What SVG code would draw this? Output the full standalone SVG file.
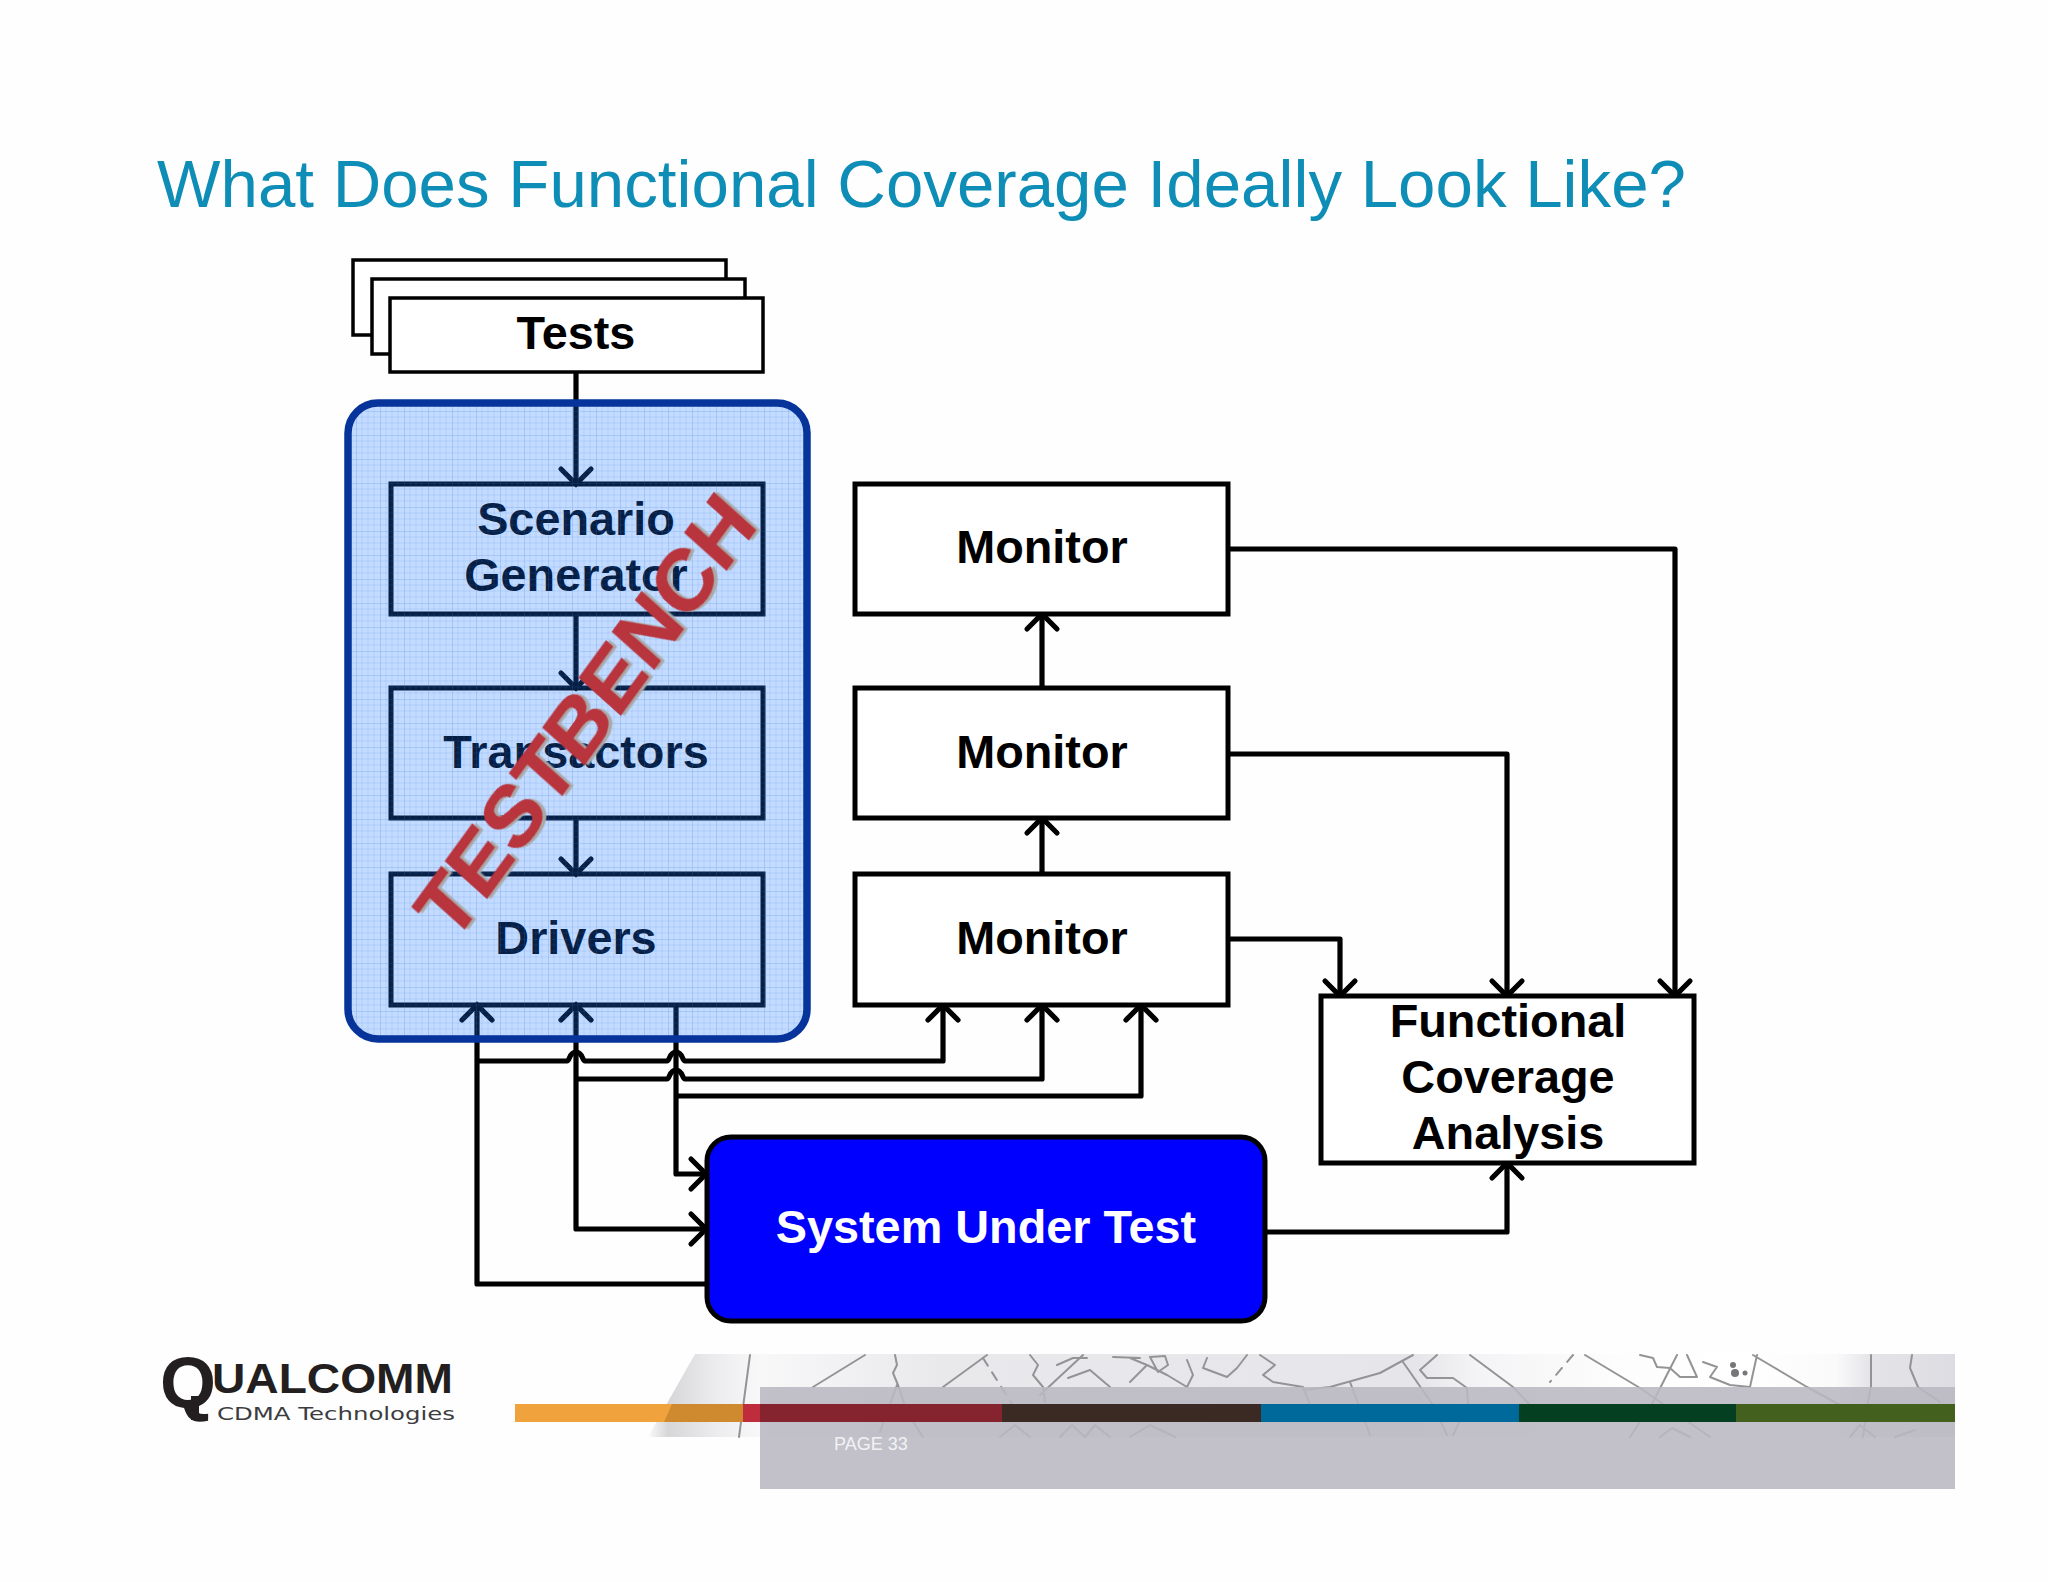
<svg xmlns="http://www.w3.org/2000/svg" width="2048" height="1582" viewBox="0 0 2048 1582">
<style>
text{font-family:"Liberation Sans",Arial,sans-serif}
.lbl{font-size:46.8px;font-weight:700;text-anchor:middle;fill:#000}
.box{fill:#fff;stroke:#000;stroke-width:3.5}
.inbox{fill:none;stroke:#000;stroke-width:5}
.mon{fill:#fff;stroke:#000;stroke-width:5}
.w{fill:none;stroke:#000;stroke-width:5.2;stroke-linejoin:round}
.a{marker-end:url(#arr)}
.ml{fill:none;stroke:#949497;stroke-width:2;stroke-linejoin:round;stroke-linecap:round;filter:url(#soft)}
</style>
<defs>
<marker id="arr" markerUnits="userSpaceOnUse" viewBox="-20 -20 24 40" refX="0" refY="0" markerWidth="24" markerHeight="40" orient="auto" overflow="visible">
<path d="M-15,-15 L0,0 L-15,15" fill="none" stroke="#000" stroke-width="5.2" stroke-linecap="round"/>
</marker>
<pattern id="grid" patternUnits="userSpaceOnUse" x="356" y="411" width="24" height="24">
<rect width="24" height="24" fill="#1273ff" fill-opacity=".26"/>
<path d="M6 0V24M12 0V24M18 0V24M0 6H24M0 12H24M0 18H24" stroke="#2f6fe0" stroke-opacity=".14" stroke-width="1" fill="none"/>
<path d="M0 0V24M0 0H24" stroke="#2f6fe0" stroke-opacity=".34" stroke-width="1.2" fill="none"/>
</pattern>
<linearGradient id="mapL" x1="0" x2="1" y1="0" y2="0">
<stop offset="0" stop-color="#fbfbfb"/><stop offset=".18" stop-color="#d6d6d8"/><stop offset=".6" stop-color="#ececee"/><stop offset="1" stop-color="#f8f8f9"/>
</linearGradient>
<linearGradient id="mapM" x1="0" x2="1" y1="0" y2="0">
<stop offset="0" stop-color="#f8f8f9"/><stop offset=".15" stop-color="#e9e9ec"/><stop offset=".55" stop-color="#e6e6ea"/><stop offset=".6" stop-color="#f4f4f6"/><stop offset=".72" stop-color="#fdfdfd"/><stop offset=".82" stop-color="#ffffff"/><stop offset=".9" stop-color="#fafafa"/><stop offset=".93" stop-color="#e4e4e8"/><stop offset="1" stop-color="#dcdce2"/>
</linearGradient>
<filter id="sh" x="-10%" y="-10%" width="120%" height="120%">
<feDropShadow dx="2.5" dy="3" stdDeviation="0.4" flood-color="#a9a9a9"/>
</filter>
<filter id="soft"><feGaussianBlur stdDeviation=".6"/></filter>
</defs>
<rect width="2048" height="1582" fill="#fefefe"/>
<text id="title" x="157" y="207" font-size="66" textLength="1529" lengthAdjust="spacingAndGlyphs" fill="#0e8db6">What Does Functional Coverage Ideally Look Like?</text>

<g id="tests">
<rect class="box" x="353" y="260" width="373" height="75"/>
<rect class="box" x="372" y="279" width="373" height="75"/>
<rect class="box" x="390" y="298" width="373" height="74"/>
<text class="lbl" x="576" y="349">Tests</text>
</g>

<rect id="testbench-base" x="348" y="403" width="459" height="636" rx="30" fill="#fff"/>

<g id="connectors">
<path class="w a" d="M576 372V484"/>
<path class="w a" d="M576 614V688"/>
<path class="w a" d="M576 818V874"/>
<path class="w a" d="M1042 688V614"/>
<path class="w a" d="M1042 874V818"/>
<path class="w a" d="M706 1284H477V1005"/>
<path class="w a" d="M576 1040V1005"/>
<path class="w a" d="M576 1040V1229H706"/>
<path class="w a" d="M676 1005V1174H706"/>
<path class="w a" d="M477 1061H567C570 1061 569 1052 576 1052C583 1052 582 1061 585 1061H667C670 1061 669 1052 676 1052C683 1052 682 1061 685 1061H943V1005"/>
<path class="w a" d="M576 1079H667C670 1079 669 1070 676 1070C683 1070 682 1079 685 1079H1042V1005"/>
<path class="w a" d="M676 1096H1141V1005"/>
<path class="w a" d="M1228 549H1675V996"/>
<path class="w a" d="M1228 754H1507V996"/>
<path class="w a" d="M1228 939H1340V996"/>
<path class="w a" d="M1265 1232H1507V1163"/>
</g>

<g id="scenario-generator">
<rect class="inbox" x="391" y="484" width="372" height="130"/>
<text class="lbl" x="576" y="535">Scenario</text>
<text class="lbl" x="576" y="591">Generator</text>
</g>
<g id="transactors">
<rect class="inbox" x="391" y="688" width="372" height="130"/>
<text class="lbl" x="576" y="768">Transactors</text>
</g>
<g id="drivers">
<rect class="inbox" x="391" y="874" width="372" height="131"/>
<text class="lbl" x="576" y="954">Drivers</text>
</g>

<g id="testbench">
<rect x="348" y="403" width="459" height="636" rx="30" fill="url(#grid)"/>
<rect x="348" y="403" width="459" height="636" rx="30" fill="none" stroke="#06349a" stroke-width="7.5"/>
<text transform="matrix(.59 -.808 .721 .647 453 945)" font-size="85" font-weight="700" fill="#b8343e" stroke="#b8343e" stroke-width=".8" filter="url(#sh)">TESTBENCH</text>
</g>

<g id="monitor-1"><rect class="mon" x="855" y="484" width="373" height="130"/><text class="lbl" x="1042" y="563">Monitor</text></g>
<g id="monitor-2"><rect class="mon" x="855" y="688" width="373" height="130"/><text class="lbl" x="1042" y="768">Monitor</text></g>
<g id="monitor-3"><rect class="mon" x="855" y="874" width="373" height="131"/><text class="lbl" x="1042" y="954">Monitor</text></g>

<g id="functional-coverage">
<rect class="mon" x="1321" y="996" width="373" height="167"/>
<text class="lbl" x="1508" y="1037">Functional</text>
<text class="lbl" x="1508" y="1093">Coverage</text>
<text class="lbl" x="1508" y="1149">Analysis</text>
</g>

<g id="system-under-test">
<rect x="707" y="1137" width="558" height="184" rx="24" fill="#0000ff" stroke="#000" stroke-width="5"/>
<text class="lbl" x="986" y="1243" style="fill:#fff">System Under Test</text>
</g>

<g id="footer">
<text x="160" y="1408" font-size="72" font-weight="700" fill="#231f20">Q<tspan x="212" y="1393" font-size="42" textLength="241" lengthAdjust="spacingAndGlyphs">UALCOMM</tspan></text>
<rect x="191" y="1396" width="8" height="24" fill="#231f20"/>
<text x="217" y="1420" font-size="18" textLength="238" lengthAdjust="spacingAndGlyphs" style="font-family:'DejaVu Sans',sans-serif" fill="#3c3c3e">CDMA Technologies</text>

<path d="M695 1354H760V1437H648Z" fill="url(#mapL)"/>
<rect x="760" y="1354" width="1195" height="83" fill="url(#mapM)"/>
<path class="ml" d="M750 1355L739 1437M865 1355L813 1387M895 1355L897 1365L893 1373L898 1385L907 1412L923 1437M897 1385L880 1432M987 1355L943 1387M1030 1355L1038 1365L1033 1375L1043 1387L1045 1402M1083 1355L1040 1395M1057 1365L1073 1358L1087 1358M1068 1378L1090 1370L1110 1387M1113 1357L1140 1358M1130 1358L1147 1365L1167 1375L1187 1387M1147 1365L1130 1382M1150 1357L1165 1356L1168 1365L1158 1372ZM1187 1360L1193 1375L1187 1387M1207 1358L1203 1368L1227 1377L1237 1368L1247 1355M1260 1355L1275 1365L1263 1375L1273 1382L1303 1387L1310 1405M1413 1355L1380 1373L1330 1387L1303 1390M1403 1362L1433 1405L1447 1435M1350 1382L1370 1435M1437 1355L1420 1370L1427 1378L1453 1378L1467 1388L1468 1405L1453 1435M1470 1355L1513 1387L1530 1405M1585 1355L1640 1388L1710 1437M1640 1355L1653 1358L1657 1367L1670 1368L1680 1377L1697 1377L1687 1355M1677 1355L1653 1402L1630 1437M1703 1362L1717 1367L1710 1377L1730 1385L1750 1387L1757 1355M1753 1355L1807 1387L1840 1405M1871 1355V1387L1867 1408L1863 1437M1912 1355L1910 1368L1918 1387L1940 1402M1000 1437L1015 1425L1030 1437M1060 1437L1072 1425L1085 1437L1095 1425L1110 1437M1130 1437L1150 1425L1175 1437M1660 1437L1672 1428L1690 1437M1850 1437L1860 1425L1875 1437M1895 1437L1915 1430"/>
<path class="ml" stroke-dasharray="9 8" d="M983 1358L1017 1412M1573 1355L1550 1382"/>
<circle cx="1733" cy="1365" r="3" fill="#77777a"/><circle cx="1735" cy="1373" r="4" fill="#77777a"/><circle cx="1745" cy="1373" r="2.5" fill="#77777a"/>

<rect x="760" y="1387" width="1195" height="102" fill="#b9b8c1" fill-opacity=".88"/>
<rect x="515" y="1404" width="228" height="18" fill="#f0a23c"/>
<path d="M672 1404H743V1422H664Z" fill="#cf8a30"/>
<rect x="743" y="1404" width="17" height="18" fill="#bf2c3b"/>
<rect x="760" y="1404" width="242" height="18" fill="#85232e"/>
<rect x="1002" y="1404" width="259" height="18" fill="#3b2a24"/>
<rect x="1261" y="1404" width="258" height="18" fill="#00699b"/>
<rect x="1519" y="1404" width="217" height="18" fill="#043f22"/>
<rect x="1736" y="1404" width="219" height="18" fill="#44601f"/>
<text x="834" y="1450" font-size="18" fill="#f2f2f5">PAGE 33</text>
</g>
</svg>
